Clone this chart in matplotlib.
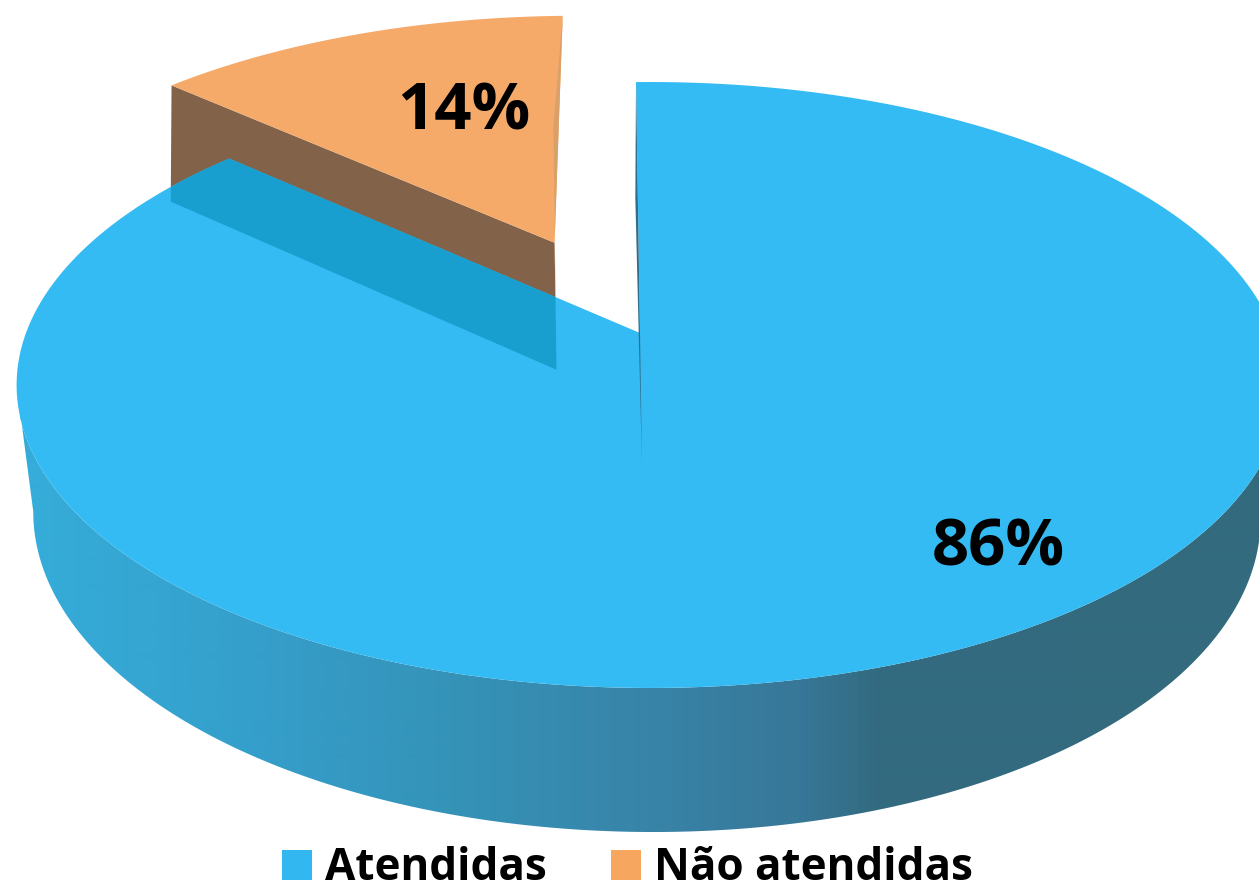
import numpy as np
import matplotlib
matplotlib.use("Agg")
import matplotlib.pyplot as plt
from matplotlib.patches import Polygon, Patch
from matplotlib.colors import LinearSegmentedColormap

categories = ["Atendidas", "Não atendidas"]
values = [86, 14]
value_labels = ["86%", "14%"]

BLUE = "#34BBF3"
ORANGE = "#F5AA69"
BROWN = "#82634A"
BLUE_OVER = "#189FCF"
SLIVER_BLUE = "#2F6F8C"
SLIVER_ORANGE = "#D9A069"

# perspective of the pie: top plane and bottom plane of the disk (pixel space)
TOP = dict(x0=650.0, c=0.0, W=624.0, y0=333.0, A=-236.9, k=0.1716, apex_u=-0.016)
LOW = dict(x0=646.0, c=-6.0, W=606.0, y0=465.0, A=-235.8, k=0.1577, apex_u=-0.0066)
START_DEG = -1.7
WARP = 0.885
EXPLODE = 0.355
SLIVER_NARROW = 0.4


def project(plane, u, v):
    d = 1 + plane["k"] * v
    x = plane["x0"] + (plane["W"] * u + plane["c"] * v) / d
    y = (plane["y0"] + plane["A"] * v) / d
    return np.column_stack([x, y])


def disk(t_deg):
    t = np.radians(t_deg)
    s, c = WARP * np.sin(t), np.cos(t)
    n = np.hypot(s, c)
    return s / n, c / n


def apex(plane, du=0.0, dv=0.0):
    return project(plane, np.array([plane["apex_u"] + du]), np.array([dv]))


fig = plt.figure(figsize=(12.59, 8.84), dpi=100)
ax = fig.add_axes([0, 0, 1, 1])
ax.axis("off")

total = sum(values)
end_blue = START_DEG + 360 * values[0] / total
end_orange = START_DEG + 360

# gradient side wall of the large slice
tt = np.linspace(0, 360, 1441)[:-1]
uu, vv = disk(tt)
top_c, low_c = project(TOP, uu, vv), project(LOW, uu, vv)
iR_t, iL_t = np.argmax(top_c[:, 0]), np.argmin(top_c[:, 0])
iR_l, iL_l = np.argmax(low_c[:, 0]), np.argmin(low_c[:, 0])
wall_pts = np.vstack([top_c[iR_t:iL_t + 1], low_c[iR_l:iL_l + 1][::-1]])
wall = Polygon(wall_pts, closed=True, fc="none", ec="none", transform=ax.transData)
ax.add_patch(wall)
stops = [(20, "#35ADDA"), (250, "#359FCB"), (450, "#3593B8"), (650, "#3884A8"),
         (800, "#377798"), (880, "#336B80"), (1259, "#336A7E")]
cmap = LinearSegmentedColormap.from_list(
    "wall", [((x - 20) / 1239, col) for x, col in stops])
im = ax.imshow(np.linspace(0, 1, 1239)[None, :], extent=(20, 1259, 900, 0),
               cmap=cmap, aspect="auto", zorder=1, interpolation="bilinear")
im.set_clip_path(wall)

# exploded small slice
mid = (end_blue + end_orange) / 2
mu, mv = disk(mid)
du, dv = EXPLODE * mu, EXPLODE * mv
ot = np.linspace(end_blue, end_orange, 160)
ou, ov = disk(ot)
o_top_rim = project(TOP, ou + du, ov + dv)
o_low_rim = project(LOW, ou + du, ov + dv)
o_top_apex = apex(TOP, du, dv)
o_low_apex = apex(LOW, du, dv)

brown_pts = np.vstack([o_top_apex, o_top_rim[:1], o_low_rim[:1], o_low_apex])
ax.add_patch(Polygon(brown_pts, fc=BROWN, ec="none", zorder=2))
ax.add_patch(Polygon(np.vstack([o_top_apex, o_top_rim]), fc=ORANGE, ec="none", zorder=3))
ax.add_patch(Polygon(np.vstack([o_top_apex, o_top_rim[-1:], o_low_rim[-1:], o_low_apex]),
                     fc=SLIVER_ORANGE, ec="none", zorder=3.5))

# large slice, top face
bt = np.linspace(START_DEG, end_blue, 900)
bu, bv = disk(bt)
b_rim = project(TOP, bu, bv)
b_apex = apex(TOP)
blue_top = Polygon(np.vstack([b_apex, b_rim]), fc=BLUE, ec="none", zorder=4)
ax.add_patch(blue_top)

# small-slice wall seen through the large slice
over = Polygon(brown_pts, fc=BLUE_OVER, ec="none", zorder=5)
ax.add_patch(over)
over.set_clip_path(blue_top)

# thin cut wall of the large slice
b_low_apex = apex(LOW)
b_low_rim = project(LOW, bu[:1] * SLIVER_NARROW, bv[:1])
ax.add_patch(Polygon(np.vstack([b_apex, b_rim[:1], b_low_rim, b_low_apex]),
                     fc=SLIVER_BLUE, ec="none", zorder=6))

ax.set_xlim(0, 1259)
ax.set_ylim(884, 0)

font = "Open Sans"
ax.text(998, 549, value_labels[0], ha="center", va="center", fontsize=47,
        fontweight="bold", family=font, color="black", zorder=10)
ax.text(464, 113, value_labels[1], ha="center", va="center", fontsize=47,
        fontweight="bold", family=font, color="black", zorder=10)

handles = [Patch(fc="#33B7F0", ec="none"), Patch(fc="#F7A65F", ec="none")]
leg = ax.legend(handles, categories, loc="center", bbox_to_anchor=(627.5, 869),
                bbox_transform=ax.transData, ncol=2, frameon=False,
                prop=dict(family=font, weight="bold", size=31.7),
                handlelength=0.68, handleheight=0.68, handletextpad=0.31,
                columnspacing=1.44, borderpad=0, borderaxespad=0)

fig.savefig("out.png", dpi=100)
